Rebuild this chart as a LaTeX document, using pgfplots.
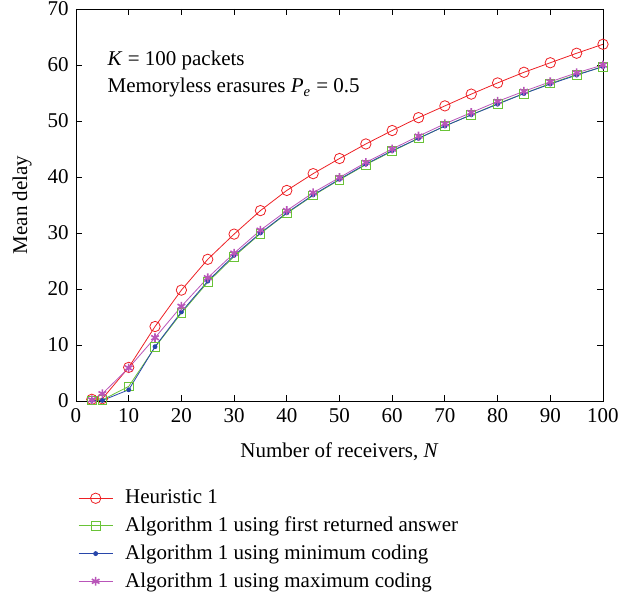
\documentclass[border=0pt]{standalone}
\usepackage{fontspec}
\setmainfont{Liberation Serif}
\usepackage{pgfplots}
\pgfplotsset{compat=1.18}
\usetikzlibrary{calc}
\definecolor{cred}{RGB}{237,32,36}
\definecolor{cgreen}{RGB}{105,195,55}
\definecolor{cblue}{RGB}{40,70,170}
\definecolor{cpurple}{RGB}{185,85,185}
\begin{document}
\fontsize{10.5}{12.6}\selectfont
\begin{tikzpicture}
\begin{axis}[
  name=ax,
  scale only axis,
  width=263.5pt, height=196pt,
  xmin=0, xmax=100, ymin=0, ymax=70,
  xtick={0,10,...,100}, ytick={0,10,...,70},
  tick align=inside,
  tick style={black, thin},
  major tick length=3pt,
  axis line style={black, thin},
  /pgf/number format/assume math mode=true,
  ticklabel style={font=\fontsize{10.5}{12.6}\selectfont},
  xlabel={Number of receivers, \textit{N}},
  ylabel={Mean delay},
  xlabel style={at={(axis description cs:0.5,-0.13)}, anchor=center},
  ylabel style={at={(axis description cs:-0.1025,0.5)}, anchor=center, rotate=0},
  legend style={draw=none, fill=none, at={(rel axis cs:-0.008,-0.205)}, anchor=north west,
    row sep=1pt, column sep=4pt, font=\fontsize{10.5}{12.6}\selectfont},
  legend cell align=left,
]
\addplot[cred, thin, mark=o, mark size=2.6pt, mark options={solid}] coordinates {
(3,0.3)(5,0.4)(10,6.0)(15,13.3)(20,19.8)(25,25.3)(30,29.8)(35,34.0)(40,37.6)(45,40.6)(50,43.3)(55,45.9)(60,48.3)(65,50.6)(70,52.7)(75,54.8)(80,56.8)(85,58.7)(90,60.4)(95,62.1)(100,63.7)};
\addlegendentry{Heuristic 1}
\addplot[cgreen, thin, mark=square, mark size=2.2pt] coordinates {
(3,0.1)(5,0.2)(10,2.6)(15,9.6)(20,15.7)(25,21.2)(30,25.8)(35,29.9)(40,33.5)(45,36.7)(50,39.5)(55,42.2)(60,44.6)(65,46.9)(70,49.1)(75,51.1)(80,53.1)(85,54.9)(90,56.7)(95,58.3)(100,59.7)};
\addlegendentry{Algorithm 1 using first returned answer}
\addplot[cblue, thin, mark=*, mark size=1.0pt] coordinates {
(3,0.1)(5,0.1)(10,2.0)(15,9.7)(20,15.9)(25,21.4)(30,26.0)(35,30.0)(40,33.6)(45,36.8)(50,39.6)(55,42.3)(60,44.7)(65,46.9)(70,49.1)(75,51.1)(80,53.0)(85,54.9)(90,56.6)(95,58.2)(100,59.7)};
\addlegendentry{Algorithm 1 using minimum coding}
\addplot[cpurple, thin, mark=asterisk, mark size=2.2pt, mark options={thick}] coordinates {
(3,0.2)(5,1.3)(10,5.9)(15,11.3)(20,16.9)(25,22.0)(30,26.4)(35,30.5)(40,34.0)(45,37.2)(50,39.9)(55,42.6)(60,45.0)(65,47.3)(70,49.5)(75,51.5)(80,53.5)(85,55.3)(90,57.0)(95,58.6)(100,60.0)};
\addlegendentry{Algorithm 1 using maximum coding}
\node[anchor=west] at (axis cs:4.6,60.9) {\textit{K} = 100 packets};
\node[anchor=west] at (axis cs:4.6,55.9) {Memoryless erasures \textit{P\textsubscript{e}} = 0.5};
\end{axis}
\pgfresetboundingbox
\path ($(ax.south west)+(-38pt,-96.5pt)$) rectangle ($(ax.north east)+(15.5pt,4.5pt)$);
\end{tikzpicture}
\end{document}
